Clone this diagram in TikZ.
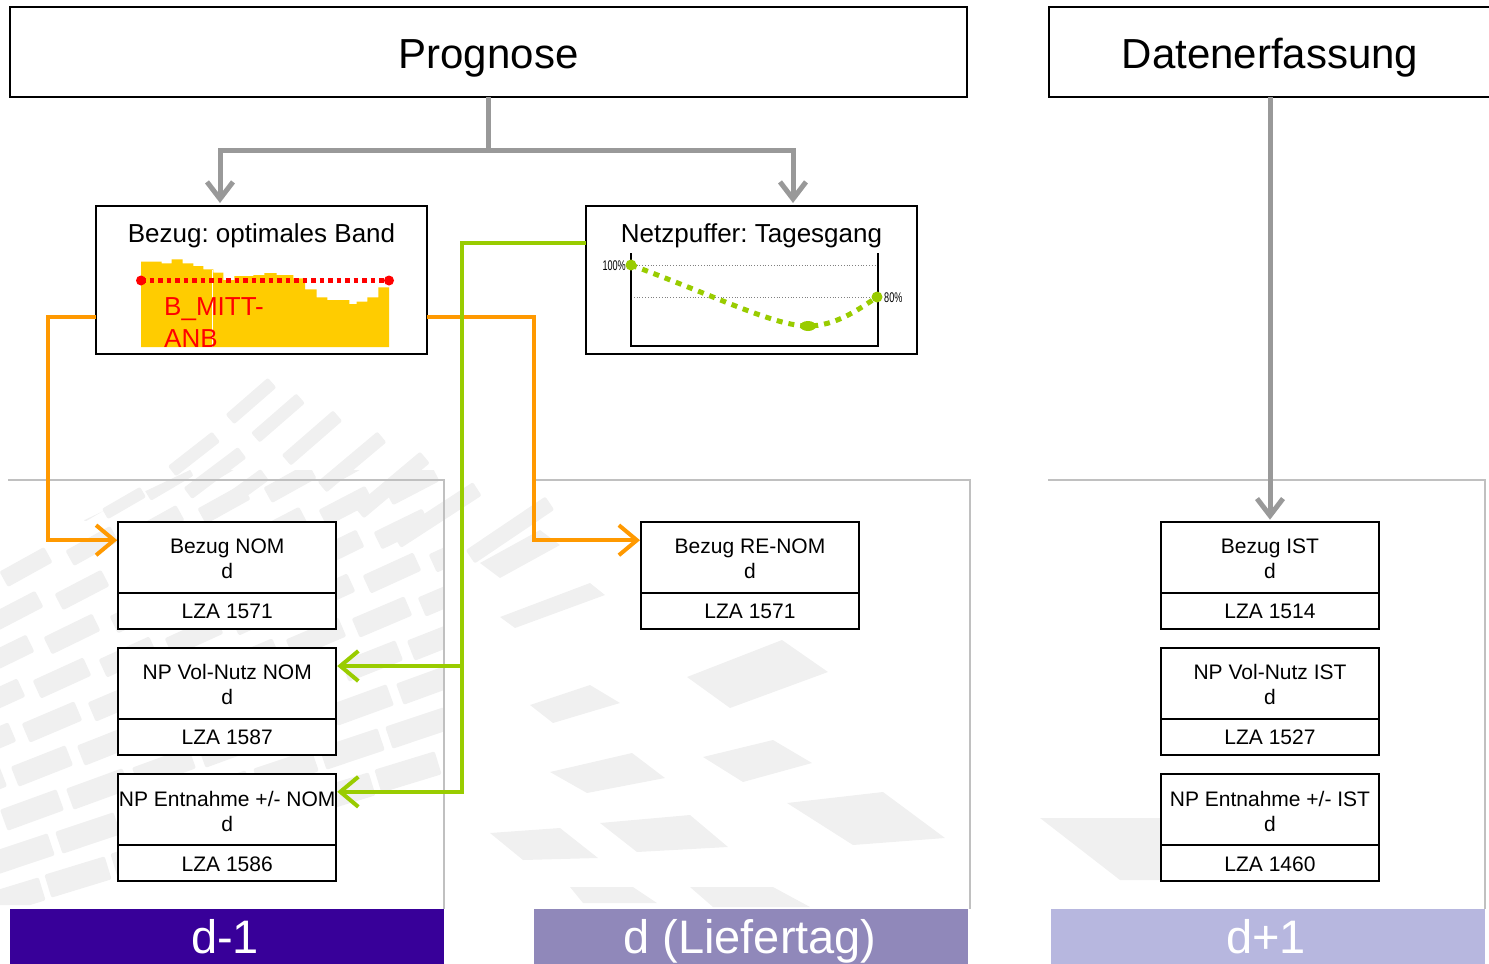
\documentclass[tikz,border=0pt]{standalone}
\usepackage{fontspec}
\setmainfont{Liberation Sans}
\usepackage{graphicx}
\usetikzlibrary{arrows.meta,calc}
\definecolor{cgray}{HTML}{999999}
\definecolor{corange}{HTML}{FF9900}
\definecolor{cgreen}{HTML}{99CC00}
\definecolor{cyellow}{HTML}{FFCC00}
\definecolor{barA}{HTML}{380099}
\definecolor{barB}{HTML}{9088BA}
\definecolor{barC}{HTML}{B7B7DF}
\definecolor{panelc}{HTML}{C0C0C0}
\definecolor{chipc}{HTML}{F0F0F0}
\newcommand\chipat[5]{\fill[chipc, rounded corners=2pt, rotate around={#5:(#1,#2)}] ($(#1,#2)+(-#3/2,-#4/2)$) rectangle ($(#1,#2)+(#3/2,#4/2)$);}
\newcommand\twoline[1]{\rule{0pt}{18pt}#1\\d}
\begin{document}
\frenchspacing
\begin{tikzpicture}[x=1pt,y=-1pt,
  hdr/.style={draw=black, line width=1.6pt, fill=white, inner sep=0pt, outer sep=0pt, minimum height=90pt, text height=32pt, text depth=0pt, font=\fontsize{42}{50}\selectfont},
  panbox/.style={draw=black, line width=1.4pt, fill=white, inner sep=0pt, outer sep=0pt, minimum width=331pt, minimum height=148pt},
  ptitle/.style={font=\fontsize{26}{30}\selectfont, inner sep=0pt, anchor=base},
  ubox/.style={draw=black, line width=2pt, fill=white, inner sep=0pt, outer sep=0pt, minimum width=218pt, minimum height=71pt, align=center, font=\fontsize{21}{25}\selectfont},
  lbox/.style={draw=black, line width=2pt, fill=white, inner sep=0pt, outer sep=0pt, minimum width=218pt, minimum height=36pt, anchor=north, text height=15.5pt, text depth=0pt, font=\fontsize{21}{25}\selectfont},
  garr/.style={draw=cgray, line width=5pt, -{Straight Barb[length=17pt,width=26pt]}},
  gln/.style={draw=cgray, line width=5pt},
  oarr/.style={draw=corange, line width=4pt, -{Straight Barb[length=18pt,width=30pt]}},
  grarr/.style={draw=cgreen, line width=4pt, -{Straight Barb[length=18pt,width=30pt]}},
  pline/.style={draw=panelc, line width=2pt},
  bar/.style={inner sep=0pt, outer sep=0pt, minimum width=434pt, minimum height=60pt},
  bartext/.style={text=white, font=\fontsize{47}{50}\selectfont, anchor=base, inner sep=0pt},
  redtxt/.style={text=red, font=\fontsize{26}{30}\selectfont, anchor=base west, inner sep=0pt},
  pct/.style={font=\fontsize{14}{16}\selectfont, inner sep=0pt},
]
\useasboundingbox (0,0) rectangle (1489,964);
\clip (0,0) rectangle (1489,964);

% ---------- faint background pattern ----------
\chipat{251}{401}{56}{13}{41}
\chipat{278}{418}{60}{13}{41}
\chipat{312}{438}{68}{14}{41}
\chipat{352}{462}{78}{14}{40}
\chipat{392}{485}{86}{15}{40}
\chipat{194}{454}{56}{13}{38}
\chipat{215}{473}{68}{14}{37}
\chipat{238}{494}{66}{14}{36}
\chipat{124}{503}{44}{12}{30}
\chipat{437}{515}{96}{16}{33}
\chipat{510}{530}{96}{16}{34}
\begin{scope}
\clip (0,560) -- (190,470) -- (444,470) -- (444,905) -- (0,905) -- cycle;
\foreach \i in {0,...,8}{
  \foreach \j in {0,...,10}{
    \pgfmathsetmacro\cx{-20+66*\i-10*\j}
    \pgfmathsetmacro\cy{500+44*\j-21*\i}
    \pgfmathsetmacro\ang{32-1.5*\j}
    \pgfmathsetmacro\len{48+1.5*\j}
    \pgfmathsetmacro\wid{16+0.8*\j}
    \chipat{\cx}{\cy}{\len}{\wid}{\ang}
  }
}
\end{scope}
\fill[chipc] (480,563) -- (540,530) -- (560,545) -- (500,578) -- cycle;
\fill[chipc] (500,617) -- (590,583) -- (605,595) -- (515,628) -- cycle;
\fill[chipc] (687,677) -- (782,640) -- (828,672) -- (730,708) -- cycle;
\fill[chipc] (530,705) -- (590,685) -- (620,703) -- (553,723) -- cycle;
\fill[chipc] (703,757) -- (773,740) -- (812,763) -- (743,782) -- cycle;
\fill[chipc] (550,772) -- (632,753) -- (665,778) -- (587,793) -- cycle;
\fill[chipc] (787,803) -- (883,792) -- (945,838) -- (853,845) -- cycle;
\fill[chipc] (600,823) -- (690,815) -- (728,847) -- (637,852) -- cycle;
\fill[chipc] (490,833) -- (560,828) -- (598,858) -- (523,860) -- cycle;
\fill[chipc] (570,887) -- (633,887) -- (657,903) -- (583,903) -- cycle;
\fill[chipc] (690,887) -- (773,887) -- (810,907) -- (713,907) -- cycle;
\fill[chipc] (1040,818) -- (1160,818) -- (1160,880) -- (1120,880) -- cycle;

% ---------- panels and bars ----------
\draw[pline] (8,480) -- (444,480) -- (444,909);
\draw[pline] (534,480) -- (970,480) -- (970,909);
\draw[pline] (1048,480) -- (1485,480) -- (1485,909);
\node[bar, fill=barA] (barA) at (227,939) {};
\node[bar, fill=barB] (barB) at (751,939) {};
\node[bar, fill=barC] (barC) at (1268,939) {};
\node[bartext] (tA) at (225,953) {d-1};
\node[bartext] (tB) at (750,953) {d (Liefertag)};
\node[bartext] (tC) at (1266,953) {d+1};

% ---------- header boxes ----------
\node[hdr, minimum width=957pt] (prog) at (488.5,52) {Prognose};
\node[hdr, minimum width=442pt] (daten) at (1270,52) {Datenerfassung};

% ---------- chart boxes ----------
\node[panbox] (bez) at (261.5,280) {};
\node[panbox] (np) at (751.5,280) {};
\node[ptitle] (bezt) at (261.5,242) {Bezug: optimales Band};
\node[ptitle] (npt) at (751.5,242) {Netzpuffer: Tagesgang};

% Bezug chart
\fill[cyellow] (141,347) -- (141,261.7) -- (161.7,261.7) -- (161.7,263.3) -- (171.7,263.3) -- (171.7,259.3)
 -- (182.7,259.3) -- (182.7,263.3) -- (193.3,263.3) -- (193.3,266) -- (203.3,266) -- (203.3,269.3)
 -- (213.3,269.3) -- (213.3,272.7) -- (223.3,272.7) -- (223.3,280) -- (234.3,280) -- (234.3,276)
 -- (253.3,276) -- (253.3,275) -- (264.3,275) -- (264.3,273) -- (276.7,273) -- (276.7,275)
 -- (293.3,275) -- (293.3,278.3) -- (305,278.3) -- (305,289.3) -- (316.7,289.3) -- (316.7,297.3)
 -- (327.3,297.3) -- (327.3,300) -- (349.3,300) -- (349.3,304) -- (356.7,304) -- (356.7,301.7)
 -- (367.3,301.7) -- (367.3,297.3) -- (378.3,297.3) -- (378.3,287.3) -- (389,287.3) -- (389,347) -- cycle;
\draw[white, line width=0.8pt] (212.7,270) -- (212.7,347);
\draw[red, line width=4.5pt, dash pattern=on 4.5pt off 4pt] (141,280.5) -- (389,280.5);
\fill[red] (141,280.5) circle (5);
\fill[red] (389,280.5) circle (5);
\node[redtxt] (bm1) at (164,315) {B\_MITT-};
\node[redtxt] (bm2) at (164,347) {ANB};

% Netzpuffer chart
\draw[gray, line width=0.8pt, dotted] (631,265) -- (878,265);
\draw[gray, line width=0.8pt, dotted] (631,297) -- (878,297);
\draw[black, line width=1.8pt] (631,253) -- (631,346) -- (878,346) -- (878,253);
\draw[cgreen, line width=5pt, dash pattern=on 6pt off 6pt] (631,265) .. controls (720,298) and (775,326) .. (808,326) .. controls (835,326) and (858,310) .. (877,297);
\fill[cgreen] (631,265) circle (5.5);
\fill[cgreen] (877,297) circle (5.5);
\fill[cgreen] (808,326) ellipse (8 and 5);
\node[pct, anchor=east] (p100) at (626,266) {\scalebox{0.65}[1]{100\%}};
\node[pct, anchor=west] (p80) at (884,298) {\scalebox{0.65}[1]{80\%}};

% ---------- small boxes ----------
\node[ubox] (bnom) at (227.2,557.2) {\twoline{Bezug NOM}};
\node[lbox] (bnomL) at (bnom.south) {LZA 1571};
\node[ubox] (vnom) at (227.2,683.5) {\twoline{NP Vol-Nutz NOM}};
\node[lbox] (vnomL) at (vnom.south) {LZA 1587};
\node[ubox] (enom) at (227.2,809.8) {\twoline{NP Entnahme +/- NOM}};
\node[lbox] (enomL) at (enom.south) {LZA 1586};

\node[ubox] (bre) at (750,557.2) {\twoline{Bezug RE-NOM}};
\node[lbox] (breL) at (bre.south) {LZA 1571};

\node[ubox] (bist) at (1270,557.2) {\twoline{Bezug IST}};
\node[lbox] (bistL) at (bist.south) {LZA 1514};
\node[ubox] (vist) at (1270,683.5) {\twoline{NP Vol-Nutz IST}};
\node[lbox] (vistL) at (vist.south) {LZA 1527};
\node[ubox] (eist) at (1270,809.8) {\twoline{NP Entnahme +/- IST}};
\node[lbox] (eistL) at (eist.south) {LZA 1460};

% ---------- connectors ----------
\coordinate (gj) at (488.5,150);
\coordinate (bzin) at (220,203);
\coordinate (npin) at (793,203);
\draw[gln] (prog.south) -- (gj);
\draw[garr] (gj) -| (bzin);
\draw[garr] (gj) -| (npin);
\draw[garr] (daten.south) -- ([yshift=2pt]bist.north);

\coordinate (oL) at (48,0);
\coordinate (oR) at (534,0);
\coordinate (gX) at (461.5,0);
\coordinate (bnomIn) at ([xshift=-1pt,yshift=17pt]bnom.west);
\coordinate (breIn) at ([xshift=-1pt,yshift=17pt]bre.west);
\coordinate (vnomIn) at ([xshift=1pt,yshift=17.5pt]vnom.east);
\coordinate (enomIn) at ([xshift=1pt,yshift=18pt]enom.east);
\draw[oarr] ([yshift=-37pt]bez.west) -| (oL |- bnomIn) -- (bnomIn);
\draw[oarr] ([yshift=-37pt]bez.east) -| (oR |- breIn) -- (breIn);
\draw[grarr] ([yshift=37pt]np.west) -| (gX |- enomIn) -- (enomIn);
\draw[grarr] (gX |- vnomIn) -- (vnomIn);
\end{tikzpicture}
\end{document}
